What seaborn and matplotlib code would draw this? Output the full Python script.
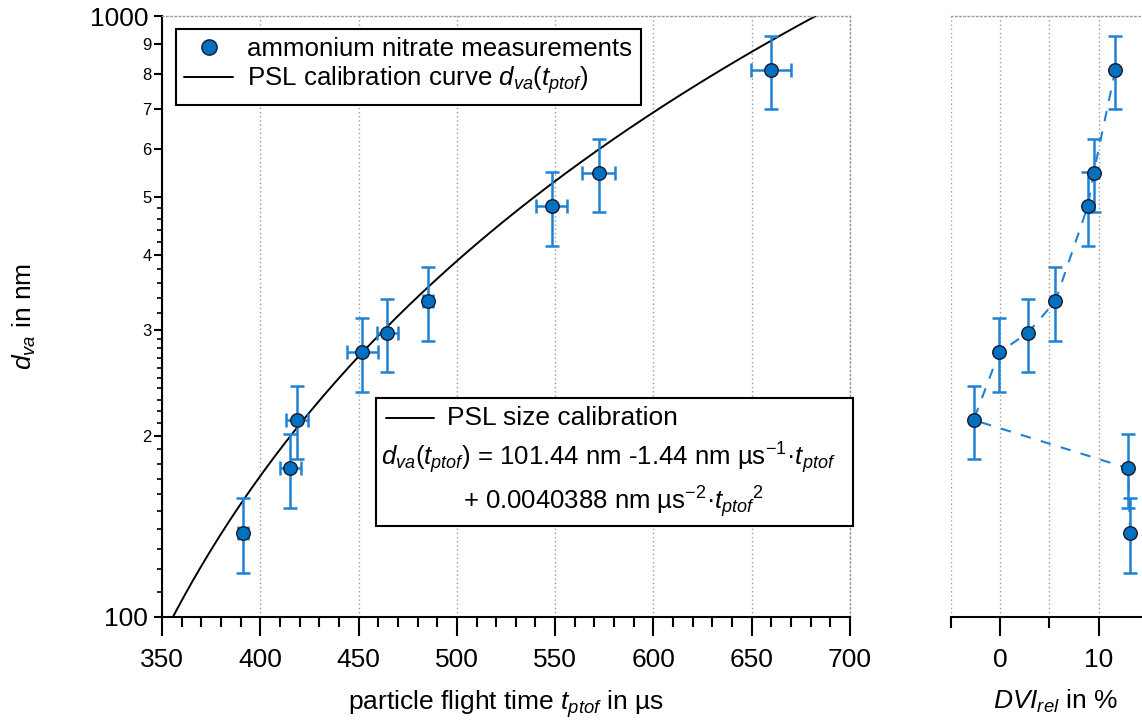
import numpy as np
import pandas as pd
import matplotlib
matplotlib.use("Agg")
import matplotlib.pyplot as plt
import seaborn as sns
from matplotlib.lines import Line2D
from matplotlib.patches import Rectangle
from matplotlib.ticker import FixedLocator, MultipleLocator, NullFormatter

# ─── data ───────────────────────────────────────────────────────────────────
t_ptof = [391.4, 415.3, 418.7, 451.9, 464.6, 485.5, 548.3, 572.1, 659.6]
t_err = [2.5, 5.5, 5.8, 7.8, 5.3, 2.5, 7.8, 8.4, 10.2]
d_va = [138.0, 176.8, 212.7, 275.7, 296.9, 335.2, 482.5, 548.7, 813.0]
d_err = [19.5, 24.8, 29.8, 38.5, 41.3, 47.0, 68.0, 76.0, 114.0]
dvi_rel = [13.2, 13.0, -2.7, -0.1, 2.8, 5.6, 8.9, 9.5, 11.7]

# PSL calibration polynomial as printed in the chart (t^2, t^1, t^0)
psl_coef = [0.0040388, -1.44, 101.44]

y_major = [100, 200, 300, 400, 500, 600, 700, 800, 900, 1000]
y_major_labels = ["100", "2", "3", "4", "5", "6", "7", "8", "9", "1000"]

# ─── style ──────────────────────────────────────────────────────────────────
sns.set_theme(style="ticks")
plt.rcParams["font.family"] = ["Liberation Sans", "DejaVu Sans"]
plt.rcParams["mathtext.fontset"] = "custom"
plt.rcParams["mathtext.rm"] = "Liberation Sans"
plt.rcParams["mathtext.it"] = "Liberation Sans:italic"
plt.rcParams["mathtext.bf"] = "Liberation Sans:bold"
plt.rcParams["axes.linewidth"] = 1.5
for key in ("text.color", "axes.labelcolor", "xtick.color", "ytick.color",
            "axes.edgecolor"):
    plt.rcParams[key] = "black"

FS = 19
BLUE = "#0070c0"
BAR = "#1f82d2"
EDGE = "#1a1a2a"
GRID = dict(color="#9a9a9a", linestyle=(0, (1, 2)), linewidth=1.0)

fig = plt.figure(figsize=(11.42, 7.27), dpi=100)
ax = fig.add_axes([162 / 1142, 110 / 727, 688 / 1142, 601 / 727])
ax2 = fig.add_axes([951 / 1142, 110 / 727, 191 / 1142, 601 / 727])

df = pd.DataFrame({"t": t_ptof, "t_err": t_err, "d": d_va,
                   "d_err": d_err, "dvi": dvi_rel})

# ─── left panel ─────────────────────────────────────────────────────────────
t_line = np.linspace(350, 700, 400)
curve = pd.DataFrame({"t": t_line, "d": np.polyval(psl_coef, t_line)})
sns.lineplot(data=curve, x="t", y="d", color="black", linewidth=1.4,
             ax=ax, zorder=2)
ax.errorbar(df["t"], df["d"], xerr=df["t_err"], yerr=df["d_err"], fmt="none",
            ecolor=BAR, elinewidth=1.8, capsize=5, capthick=1.8, zorder=3)
sns.scatterplot(data=df, x="t", y="d", ax=ax, s=95, color=BLUE,
                edgecolor=EDGE, linewidth=1.0, zorder=4)

ax.set_yscale("log")
ax.set_xlim(350, 700)
ax.set_ylim(100, 1000)
ax.xaxis.set_major_locator(MultipleLocator(50))
ax.xaxis.set_minor_locator(MultipleLocator(10))
ax.yaxis.set_major_locator(FixedLocator(y_major))
ax.yaxis.set_minor_locator(FixedLocator(
    [v for v in range(110, 300, 10) if v != 200]
    + [320, 340, 360, 380, 420, 440, 460, 480]))
ax.yaxis.set_minor_formatter(NullFormatter())
ax.set_yticklabels(y_major_labels)
ax.tick_params(axis="x", which="major", length=14, width=1.5, labelsize=FS,
               pad=8, direction="out")
ax.tick_params(axis="x", which="minor", length=7.5, width=1.5, direction="out")
ax.tick_params(axis="y", which="major", width=1.5, labelsize=FS, direction="out")
ax.tick_params(axis="y", which="minor", length=3.5, width=1.2, direction="out")
for tick, v in zip(ax.yaxis.get_major_ticks(), y_major):
    big = v in (100, 1000)
    tick.tick1line.set_markersize(14 if big else 8)
    tick.label1.set_fontsize(FS if big else 12)
    tick.set_pad(4 if big else 1.5)

ax.grid(axis="x", which="major", **GRID)
for side in ("top", "right"):
    ax.spines[side].set_visible(True)
    ax.spines[side].set(color="#9a9a9a", linestyle=(0, (1, 2)), linewidth=1.0)
ax.set_xlabel(r"particle flight time $t_{ptof}$ in µs", fontsize=FS)
ax.set_ylabel(r"$d_{va}$ in nm", fontsize=FS)
ax.xaxis.set_label_coords(0.5, -0.118)
ax.yaxis.set_label_coords(-0.18, 0.5)

handles = [
    Line2D([], [], marker="o", linestyle="none", markerfacecolor=BLUE,
           markeredgecolor=EDGE, markersize=11),
    Line2D([], [], color="black", linewidth=1.4),
]
leg = ax.legend(handles, ["ammonium nitrate measurements",
                          r"PSL calibration curve $d_{va}(t_{ptof})$"],
                loc="upper left", bbox_to_anchor=(0.02, 0.978),
                borderaxespad=0, fontsize=18.6, frameon=True, fancybox=False,
                framealpha=1, edgecolor="black", handlelength=1.9,
                handletextpad=0.55, labelspacing=0.12, borderpad=0.32)
leg.get_frame().set_linewidth(1.5)

# text box with the calibration function
box = Rectangle((0.311, 0.1514), 0.6934, 0.213, transform=ax.transAxes,
                facecolor="white", edgecolor="black", linewidth=1.5,
                zorder=5, clip_on=False)
ax.add_patch(box)
ax.plot([0.325, 0.395], [0.331, 0.331], color="black", linewidth=1.4,
        transform=ax.transAxes, zorder=6, clip_on=False)
ax.text(0.414, 0.331, "PSL size calibration", transform=ax.transAxes,
        fontsize=FS, va="center", ha="left", zorder=6)
ax.text(0.648, 0.2646,
        r"$d_{va}(t_{ptof})$ = 101.44 nm -1.44 nm µs$^{-1}$·$t_{ptof}$",
        transform=ax.transAxes, fontsize=18.5, va="center", ha="center",
        zorder=6)
ax.text(0.657, 0.191,
        r"+ 0.0040388 nm µs$^{-2}$·$t_{ptof}{}^{2}$",
        transform=ax.transAxes, fontsize=18.5, va="center", ha="center",
        zorder=6)

# ─── right panel ────────────────────────────────────────────────────────────
sns.lineplot(data=df, x="dvi", y="d", sort=False, color=BAR, linewidth=1.5,
             linestyle=(0, (5, 5)), ax=ax2, zorder=2)
ax2.errorbar(df["dvi"], df["d"], yerr=df["d_err"], fmt="none", ecolor=BAR,
             elinewidth=1.8, capsize=5, capthick=1.8, zorder=3)
sns.scatterplot(data=df, x="dvi", y="d", ax=ax2, s=95, color=BLUE,
                edgecolor=EDGE, linewidth=1.0, zorder=4)
ax2.set_yscale("log")
ax2.set_ylim(100, 1000)
ax2.set_xlim(-5, 14.41)
ax2.xaxis.set_major_locator(FixedLocator([0, 10]))
ax2.xaxis.set_minor_locator(FixedLocator([-5, 5]))
ax2.tick_params(axis="x", which="major", length=14, width=1.5, labelsize=FS,
                pad=8, direction="out")
ax2.tick_params(axis="x", which="minor", length=8, width=1.5, direction="out")
ax2.yaxis.set_major_locator(FixedLocator([]))
ax2.yaxis.set_minor_locator(FixedLocator([]))
ax2.tick_params(axis="y", left=False, labelleft=False)
ax2.grid(axis="x", which="both", **GRID)
ax2.spines["left"].set_visible(False)
ax2.spines["right"].set_visible(False)
ax2.spines["top"].set_visible(True)
ax2.spines["top"].set(color="#9a9a9a", linestyle=(0, (1, 2)), linewidth=1.0)
ax2.set_ylabel("")
ax2.set_xlabel(r"$DVI_{rel}$ in %", fontsize=FS)
ax2.xaxis.set_label_coords(0.545, -0.118)

fig.savefig("out.png", dpi=100)
